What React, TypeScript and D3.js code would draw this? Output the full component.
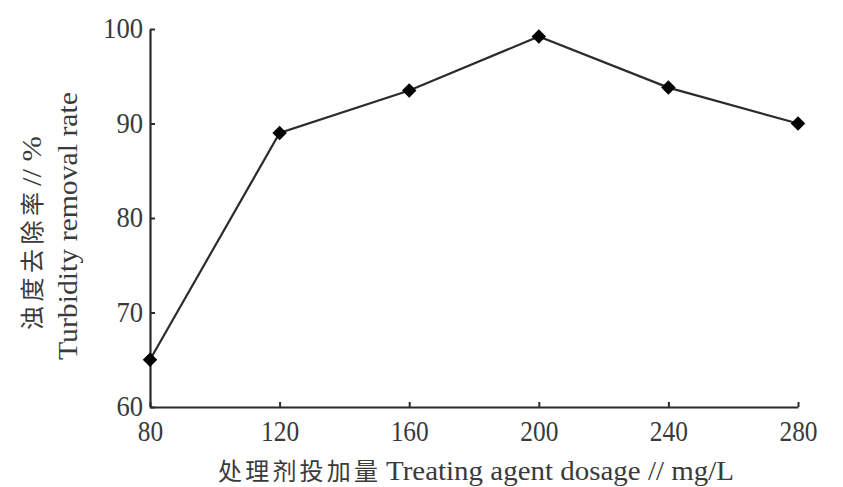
import React, { useEffect, useRef } from "react";
import * as d3 from "d3";

const dosages = [80, 120, 160, 200, 240, 280];
const removalRates = [65, 89, 93.5, 99.2, 93.8, 90];
const xTicks = [80, 120, 160, 200, 240, 280];
const yTicks = [60, 70, 80, 90, 100];

const xTitleCn = "处理剂投加量";
const xTitleEn = "Treating agent dosage // mg/L";
const yTitleCn = "浊度去除率";
const yTitleUnit = "// %";
const yTitleEn = "Turbidity removal rate";

const W = 843;
const H = 487;
const SERIF = "'Liberation Serif', 'DejaVu Serif', serif";
const CJK = "'Noto Sans CJK SC', sans-serif";

export default function App() {
  const ref = useRef<SVGSVGElement>(null);

  useEffect(() => {
    const svg = d3.select(ref.current);
    svg.selectAll("*").remove();

    const x = d3.scaleLinear().domain([80, 280]).range([150, 798]);
    const y = d3.scaleLinear().domain([60, 100]).range([407, 29]);

    const ink = "#2b2b2b";
    const textInk = "#3a3a3a";

    // fitted text: squeezes glyphs to the width seen in the picture
    const label = (
      g: d3.Selection<any, unknown, null, undefined>,
      str: string,
      xx: number,
      yy: number,
      len: number,
      font: string,
      size: number,
      rotate = false,
      adjust = "spacingAndGlyphs"
    ) =>
      g
        .append("text")
        .attr("transform", `translate(${xx},${yy})${rotate ? " rotate(-90)" : ""}`)
        .attr("font-family", font)
        .attr("font-size", size)
        .attr("fill", textInk)
        .attr("textLength", len)
        .attr("lengthAdjust", adjust)
        .text(str);

    // y axis, ticks pointing inward
    const yAxis = svg
      .append("g")
      .attr("transform", `translate(${x(80)},0)`)
      .call(d3.axisRight(y).tickValues(yTicks).tickSize(5).tickSizeOuter(0).tickFormat(() => ""));
    yAxis.select(".domain").attr("stroke", ink).attr("stroke-width", 2.2);
    yAxis.selectAll(".tick line").attr("stroke", ink).attr("stroke-width", 2);

    const xAxis = svg
      .append("g")
      .attr("transform", `translate(0,${y(60)})`)
      .call(d3.axisTop(x).tickValues(xTicks).tickSize(5).tickSizeOuter(0).tickFormat(() => ""));
    xAxis.select(".domain").attr("stroke", ink).attr("stroke-width", 2.2);
    xAxis.selectAll(".tick line").attr("stroke", ink).attr("stroke-width", 2);

    // tick labels
    const tl = svg.append("g");
    yTicks.forEach((d) => {
      const s = String(d);
      const len = s.length * 13.3;
      label(tl, s, 143 - len, y(d) + 9, len, SERIF, 30);
    });
    xTicks.forEach((d) => {
      const s = String(d);
      const len = s.length * 12.7;
      label(tl, s, x(d) - len / 2 + 0.5, 441, len, SERIF, 30);
    });

    // series
    const pts = dosages.map((d, i) => [x(d), y(removalRates[i])] as [number, number]);
    svg
      .append("path")
      .attr("d", d3.line()(pts)!)
      .attr("fill", "none")
      .attr("stroke", ink)
      .attr("stroke-width", 2.2);

    const sym = d3.symbol().type(d3.symbolSquare).size(105);
    svg
      .append("g")
      .selectAll("path")
      .data(pts)
      .join("path")
      .attr("d", sym()!)
      .attr("transform", (p) => `translate(${p[0]},${p[1]}) rotate(45)`)
      .attr("fill", "#000");

    // titles
    const tt = svg.append("g");
    label(tt, xTitleCn, 218, 480, 160, CJK, 24, false, "spacing");
    label(tt, xTitleEn, 386, 480, 348, SERIF, 27);

    label(tt, yTitleCn, 41, 330, 138, CJK, 24, true, "spacing");
    label(tt, yTitleUnit, 41, 186, 50, SERIF, 27, true);
    label(tt, yTitleEn, 77, 360, 268, SERIF, 27, true);
  }, []);

  return (
    <svg
      ref={ref}
      width={W}
      height={H}
      style={{ position: "absolute", left: 0, top: 0, background: "#fff" }}
    />
  );
}
